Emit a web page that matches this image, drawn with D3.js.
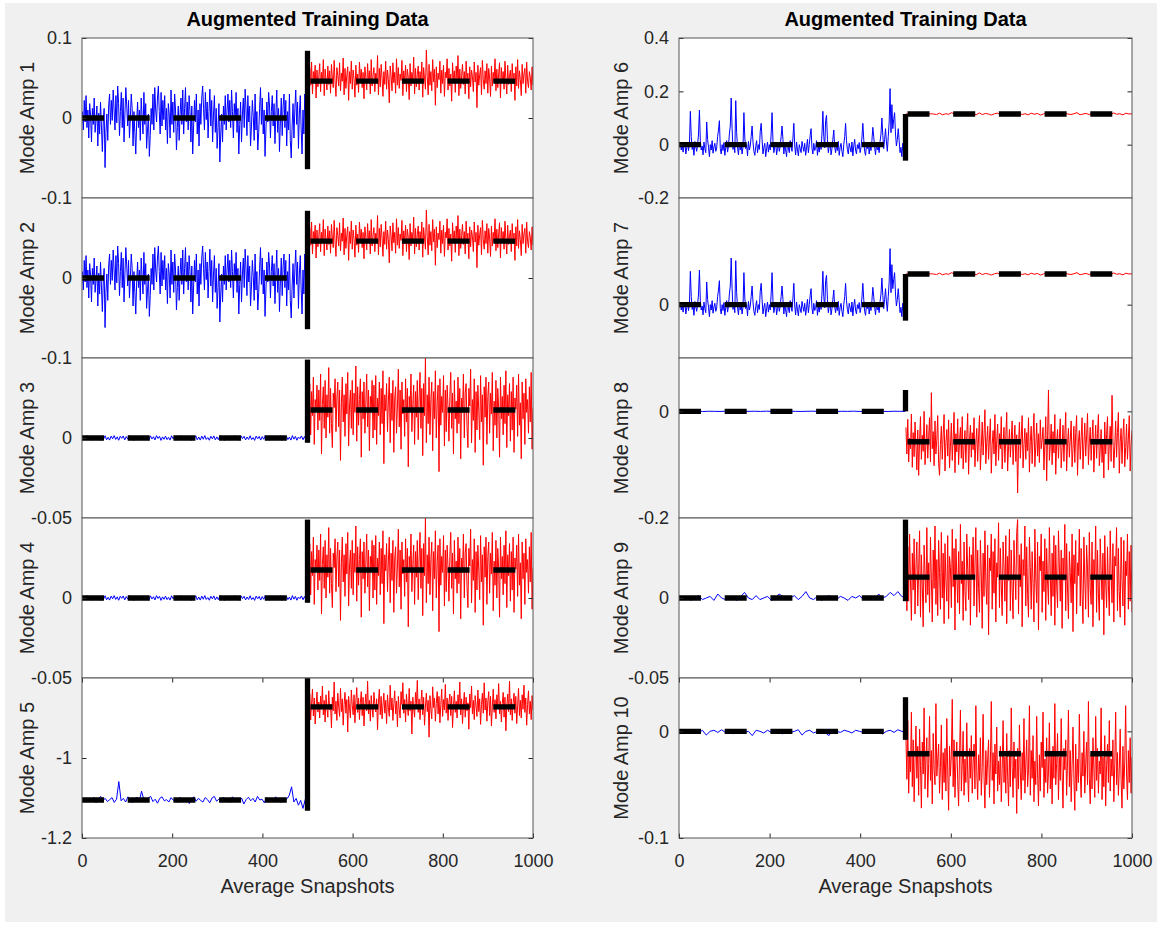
<!DOCTYPE html>
<html>
<head>
<meta charset="utf-8">
<script src="https://d3js.org/d3.v7.min.js"></script>
<style>
body{margin:0;background:#fff;}
text{font-family:Arial,"Liberation Sans",Helvetica,sans-serif;}
</style>
</head>
<body>
<div id="chart"></div>
<script>
// all series values below are in thousandths
var UNIT = 0.001;

// Mode Amp 1 (Mode Amp 2 is the same data in the source figure)
var amp1Blue = [8,-15,22,-5,28,-12,10,-25,18,3,-30,12,-8,25,-18,-2,15,-35,6,-20,20,-10,-42,-5,12,
	-62,-18,5,-28,15,30,-8,22,-3,35,10,-15,28,-6,40,18,-22,8,32,-12,25,-30,5,38,15,
	-10,22,-25,0,30,12,-35,8,-18,-45,-5,20,-12,10,-28,25,2,-20,32,-8,18,-38,-15,5,-48,
	-22,12,-8,30,-15,38,10,-5,25,40,8,-20,32,-10,22,-2,28,-15,12,-32,18,5,-25,35,-8,
	20,-18,30,10,-40,-12,15,-28,5,25,-8,35,-20,12,38,-5,20,-15,28,8,-30,15,-45,-10,22,
	-5,30,-20,10,-35,18,-8,25,40,12,-15,32,-2,20,-25,8,36,-10,22,-30,5,28,-18,12,-38,
	-12,18,-55,-20,5,-30,15,-8,28,-15,10,30,-5,22,-12,35,8,-25,18,-2,32,-18,12,-45,-8,
	20,-30,5,25,-12,36,10,-22,28,-5,15,-35,-10,22,2,-28,30,-15,8,-40,-18,12,38,-8,25,
	-20,10,-48,-15,20,-5,32,15,-25,8,28,-10,18,-32,5,35,-18,12,-42,-5,25,-22,15,30,-12,
	22,-35,8,-15,30,-28,-50,-10,18,-25,12,35,-8,20,-38,5,28,-15,-45,10,-20,30,-5,22,28];
var amp1Red = [55,36,62,41,70,30,58,47,66,25,60,39,52,68,33,57,44,73,28,61,48,35,65,42,59,
	31,67,50,38,72,45,27,63,53,40,69,34,56,46,75,29,62,37,54,64,22,58,43,71,36,
	60,49,26,66,41,55,32,70,47,61,38,57,24,64,51,35,68,44,59,30,73,40,53,63,33,
	56,45,78,29,62,39,67,50,27,58,42,71,36,60,48,19,65,53,34,69,44,57,31,74,41,
	63,37,55,47,72,28,59,43,66,33,61,51,23,68,40,57,46,76,30,62,39,54,65,35,58,
	44,70,26,63,49,36,85,52,29,67,41,58,34,73,45,61,16,64,38,56,48,71,31,60,43,
	66,27,57,50,74,35,62,40,55,21,69,46,59,32,65,44,78,28,61,37,53,67,42,58,30,
	71,47,56,24,64,39,60,52,33,70,45,57,13,66,41,54,63,29,72,48,36,59,43,68,31,
	62,50,27,65,40,57,46,74,34,61,38,55,69,25,63,44,58,36,71,49,30,66,42,53,60,
	33,68,45,56,22,64,40,73,37,59,48,28,67,43,55,62,31,70,46,38,58,51,35,64,41];

// Mode Amp 3 (Mode Amp 4 is the same data)
var amp3Blue = [0,1.2,-1,1.5,-0.8,1.1,-1.4,0.6,-1.2,1.3,-0.3,1,-1.5,0.8,-0.6,1.4,-1.1,0.4,-1.3,1.2,-0.5,1.5,-0.9,0.7,-1.4,
	1.1,-0.2,1.3,-1.2,0.9,-0.7,1.5,-1,0.3,-1.5,1.2,-0.4,1,-1.3,0.6,-0.9,1.4,-1.1,0.5,-1.4,1.3,-0.6,0.8,-1.2,1.5,
	-0.3,1.1,-1.5,0.7,-0.8,1.2,-1,0.4,-1.3,1.4,-0.5,0.9,-1.4,1.1,-0.7,1.5,-1.2,0.2,-1,1.3,-0.6,1,-1.5,0.8,-0.4,
	1.4,-1.1,0.6,-1.3,1.2,-0.8,1.5,-0.9,0.3,-1.4,1.1,-0.5,1.3,-1.2,0.7,-1,1.4,-0.3,0.9,-1.5,1.2,-0.6,1,-1.3,0.5,
	-0.7,1.5,-1.1,0.8,-1.4,1.3,-0.4,1.1,-1.2,0.6,-0.9,1.4,-1,0.3,-1.5,1.2,-0.5,1,-1.3,0.9,-0.8,1.5,-1.1,0.4,-1.4,
	1.3,-0.6,0.7,-1.2,1.1,-0.3,1.4,-1.5,0.8,-0.9,1.2,-1,0.5,-1.3,1.5,-0.7,1,-1.4,0.6,-0.4,1.3,-1.1,0.9,-1.2,0.5];
var amp3Red = [26,8,34,2,29,14,38,-4,24,17,33,5,30,11,40,-10,21,32,6,36,0,27,13,44,3,
	31,9,-6,28,19,37,4,25,35,7,30,-14,22,38,10,27,1,34,15,41,-5,20,30,6,36,
	2,28,16,45,-2,32,8,24,37,-12,29,12,35,3,22,40,7,30,-8,26,18,36,0,33,5,
	39,-4,25,14,35,2,31,9,42,-16,27,17,34,4,23,38,-3,28,11,36,-9,25,32,3,20,
	43,7,30,-7,35,15,24,1,37,10,31,-18,26,18,40,4,21,33,-4,29,13,36,-1,25,41,
	6,31,-11,34,14,50,-3,27,9,38,2,24,35,-8,29,12,42,0,22,33,-21,37,8,26,16,
	39,-5,30,4,33,19,-2,26,41,6,28,-10,36,12,23,3,38,9,31,-13,25,16,40,0,28,
	34,7,-6,31,20,43,-3,24,11,37,-9,29,5,33,17,-1,39,10,27,-17,32,13,38,-4,26,
	35,3,28,15,41,-8,23,8,36,0,31,19,-12,38,12,26,2,33,9,42,-6,27,14,34,-2,
	29,5,38,-9,25,18,33,1,40,8,22,-13,35,12,28,-4,37,16,24,3,32,10,41,-7,19];

// Mode Amp 5
var amp5Blue = [-1103,-1108,-1100,-1110,-1104,-1098,-1112,-1102,-1096,-1106,-1101,-1109,-1104,-1099,-1111,-1103,-1059,-1107,-1101,-1110,-1097,-1105,-1112,-1102,-1098,
	-1108,-1083,-1104,-1110,-1100,-1096,-1109,-1103,-1113,-1101,-1097,-1107,-1104,-1110,-1099,-1106,-1102,-1111,-1098,-1105,-1109,-1100,-1114,-1103,-1097,
	-1108,-1101,-1106,-1110,-1099,-1104,-1112,-1100,-1096,-1108,-1103,-1110,-1098,-1105,-1101,-1111,-1097,-1106,-1102,-1109,-1100,-1115,-1104,-1098,-1107,
	-1101,-1110,-1096,-1105,-1103,-1112,-1099,-1106,-1101,-1109,-1097,-1104,-1111,-1100,-1107,-1102,-1093,-1072,-1110,-1101,-1118,-1106,-1126,-1104,-1112];
var amp5Red = [-855,-890,-840,-905,-862,-828,-895,-850,-915,-870,-835,-885,-860,-900,-845,-878,-820,-892,-856,-910,-842,-874,-898,-832,-880,
	-865,-925,-848,-882,-810,-890,-858,-906,-838,-872,-896,-826,-884,-852,-918,-866,-836,-888,-854,-935,-846,-876,-900,-830,-868,
	-892,-842,-912,-858,-824,-886,-850,-904,-862,-834,-894,-848,-920,-870,-840,-882,-808,-890,-856,-908,-844,-876,-898,-836,-864,
	-885,-852,-930,-860,-828,-892,-846,-902,-868,-838,-888,-856,-914,-842,-874,-896,-818,-880,-850,-906,-864,-832,-890,-858,-922,
	-846,-878,-900,-834,-866,-812,-888,-854,-910,-840,-872,-894,-826,-882,-858,-940,-848,-876,-898,-836,-868,-806,-886,-852,-904,
	-862,-830,-892,-848,-918,-870,-838,-884,-856,-948,-844,-878,-902,-822,-874,-850,-908,-864,-834,-890,-846,-912,-866,-828,-896,
	-854,-880,-816,-888,-850,-906,-860,-840,-894,-846,-924,-872,-832,-886,-858,-900,-842,-876,-810,-892,-852,-914,-868,-836,-898,
	-848,-882,-862,-928,-840,-874,-820,-890,-856,-904,-844,-870,-896,-830,-884,-852,-916,-866,-838,-888,-812,-880,-850,-908,-860,
	-834,-894,-846,-920,-872,-828,-886,-854,-902,-842,-876,-814,-890,-858,-910,-864,-836,-898,-848,-932,-870,-840,-884,-808,-892,
	-852,-906,-862,-838,-888,-846,-914,-868,-826,-894,-856,-900,-842,-878,-818,-886,-850,-918,-866,-832,-890,-858,-904,-844,-880];

// Mode Amp 6 (Mode Amp 7 is the same data)
var amp6Blue = [-10,5,-20,0,-28,-5,10,-35,-12,8,-22,2,125,30,-18,-5,-40,12,-8,-25,0,40,130,15,-20,
	-5,-38,10,-15,-30,85,20,-10,-45,0,-20,15,-32,-8,5,-25,-12,30,55,90,-15,-35,0,-22,8,
	-40,-10,15,-28,-5,40,70,175,60,-18,5,-30,165,45,-12,-38,10,-20,2,-35,-8,120,25,-15,0,
	-42,12,-20,-5,30,70,10,-25,-40,-8,15,-30,0,-18,50,80,20,-35,-10,5,-45,-15,10,-28,0,
	-20,40,120,15,-30,-8,10,-38,-15,5,-25,-5,30,70,20,-35,0,-20,-45,8,-12,-30,15,-8,-25,
	25,80,-5,-38,10,-20,-42,0,-15,-30,12,-8,-25,5,-40,-12,20,-30,0,35,60,-15,-35,5,-22,
	-10,15,-40,-5,-28,10,-18,40,125,30,-12,90,110,20,-30,-5,10,-38,-15,20,55,-8,-30,0,-22,
	12,-40,-10,5,-25,-45,0,30,80,15,-18,-35,5,-10,-28,10,-42,-5,20,-20,-35,0,-15,8,-30,
	-10,25,80,20,-25,-40,0,-15,10,-35,-5,-22,15,65,30,-10,-38,5,-20,-8,-30,12,40,100,35,
	-15,20,60,10,-25,30,85,210,45,150,60,95,120,40,-5,20,60,15,-30,-10,-45,5,-20,-8,10];
var amp6Red = [116,113,118,112,117,114,119,111,116,115,113,118,112,116,114,120,113,117,111,115,118,114,116,112,119,
	113,117,115,111,116,118,113,115,117,112,116,114,119,113,116,112,118,114,117,111,115,119,113,116,114,
	117,112,118,115,113,116,120,112,115,117,113,118,114,116,111,117,115,113,119,114,116,112,118,115,116];

// Mode Amp 8
var amp8Blue = [0,0.3,-0.2,0.2,-0.3,0.1,0,-0.2,0.3,-0.1,0.2,-0.3,0,0.2,-0.2,0.3,-0.1,0.1,-0.3,0.2,0,-0.2,0.1,0.3,-0.2,0,0.2,-0.3,0.1,-0.1,0.3,-0.2,0,0.2,-0.1,0.1,-0.3,0.2,0,0];
var amp8Red = [-30,-80,-15,-95,-50,-70,-5,-105,-40,-85,-20,-65,-110,-35,-120,-55,-10,-90,-45,-75,0,-100,-60,-25,-88,
	-48,-12,-95,35,-70,-38,-102,-18,-80,-52,-8,-98,-120,-62,-28,-90,-44,-6,-112,-58,-34,-84,-16,-106,-66,
	-22,-92,-50,-2,-115,-42,-76,-14,-100,-56,-30,-88,-10,-108,-64,-36,-96,-46,-4,-118,-54,-26,-86,-40,-72,
	-12,-104,-60,-32,-94,-48,-8,-110,-68,-20,-82,-44,3,-98,-58,-28,-90,-50,-14,-116,-62,-36,-80,-6,-102,
	-54,-24,-92,-42,-70,-10,-108,-60,-30,-96,-46,-2,-112,-66,-34,-86,-52,-18,-100,-58,-26,-94,-44,-153,-64,
	-20,-88,-50,-8,-106,-62,-32,-90,-40,-74,-12,-114,-56,-28,-98,-48,-4,-104,-66,-22,-84,-42,-96,-16,-70,
	-54,-30,-110,-60,-10,-130,-46,40,-92,-64,-24,-100,-38,-78,-6,-118,-58,-34,-88,-50,-14,-106,-68,-26,-94,
	-44,-2,-112,-60,-32,-86,-52,-18,-104,-70,-28,-96,-40,-8,-120,-56,-36,-90,-48,-12,-108,-62,-22,-84,-46,
	-4,-100,-58,-30,-92,-50,-16,-114,-64,-26,-88,-42,-6,-102,-72,-34,-96,-54,-125,-20,-80,-44,-10,-110,-60,
	-28,-94,30,-50,-106,-66,-18,-86,-40,-2,-116,-58,-32,-98,-46,-14,-104,-68,-24,-90,-52,-8,-112,-62,-36];

// Mode Amp 9
var amp9Blue = [0,-1,1,-1.5,0,1.5,-1,0,1,-1.5,2.5,0,-1,1,0,-1.5,1,3.5,0,-1,1.5,-1,0,1,-1.5,0,2.5,1,-1,0,1.5,-1,1,4,0,-1,1,-1.5,0,1.5,0,-1,1,0,-1.5,1,0,1.5,-1,0,1,-1,2.5,0,1,3.5,1.5,4,1,0];
var amp9Red = [25,-8,32,-2,40,10,-14,28,5,37,-10,20,35,-5,18,42,-12,27,8,-18,33,15,-3,44,2,
	22,-9,38,12,-15,30,6,45,-4,24,-11,36,16,-7,41,0,28,-16,34,11,-2,39,-13,26,19,
	-6,43,7,31,-20,37,14,-3,29,-10,46,9,23,-14,35,4,-8,40,18,-1,32,-17,27,12,38,
	-5,21,44,-12,30,6,-9,36,15,-19,28,1,42,10,-4,33,-23,25,17,40,-7,29,3,37,-15,
	22,13,47,-6,31,8,-11,35,20,-2,39,-16,26,11,43,-8,30,5,-13,36,16,-1,41,49,-10,
	27,7,34,-18,24,14,45,-5,32,2,-12,38,19,-7,29,9,-15,43,12,-3,35,-20,26,17,40,
	-9,23,4,37,-14,31,10,-4,44,15,-11,28,1,39,-17,33,8,-6,42,20,-2,30,-19,25,11,
	46,-8,34,5,-13,29,16,-3,40,-21,27,9,36,-10,22,14,43,-5,31,2,-16,38,12,-7,33,
	18,-12,41,6,-4,35,-18,24,13,45,-9,30,3,-14,37,17,-1,28,-23,39,10,-6,32,8,-11,
	42,15,-3,34,-15,26,20,44,-8,31,4,-12,38,11,-5,36,-17,23,14,40,-7,29,-2,33,-9];

// Mode Amp 10
var amp10Blue = [0,1,-1,1.5,0,-1.5,1,-3.5,0,1,-1,1.5,-1,0,-2.5,1,1.5,-1,0,-4,1,0,-1.5,1,-1,1.5,0,-2.5,1,-1,0,1.5,-3.5,0,1,-1.5,0,1,-1,-4,1.5,0,-1,1,0,-1.5,1,0,-1,1.5,0,-1,1,-2.5,0,1,-1,1.5,0,-1];
var amp10Red = [-5,-45,10,-58,-20,-38,18,-52,-8,-66,-28,5,-44,-14,-60,2,-32,-72,-10,-40,22,-54,-24,-6,-62,
	-30,14,-46,-18,-68,-2,-36,-50,26,-42,-26,-12,-58,-34,6,-64,-20,-48,-16,-56,12,-38,-74,-14,-42,
	-22,30,-52,-8,-62,-28,-10,-46,-70,-24,20,-56,-32,0,-60,-26,-48,8,-40,-66,-16,-44,-4,-58,-30,
	-12,-54,24,-38,-64,-22,-46,-6,-60,-34,16,-42,-72,-18,-50,-26,-8,-62,-30,28,-46,-20,-68,-12,-40,
	4,-56,-28,-50,-14,-66,-36,10,-48,-24,-58,-2,-42,-70,-18,-52,22,-34,-62,-10,-44,-26,-77,-16,-54,
	6,-38,-64,-20,-46,12,-58,-30,-8,-52,-36,24,-60,-18,-44,-4,-66,-28,-50,14,-40,-70,-22,-56,-10,
	-34,18,-62,-26,-48,-6,-58,-38,8,-54,-20,-68,-14,-44,26,-50,-30,-2,-64,-24,-46,12,-40,-72,-16,
	-36,-8,-60,-28,20,-52,-18,-66,-32,4,-44,-74,-12,-56,-26,-48,16,-38,-62,-20,-42,0,-58,-30,-10,
	-50,28,-44,-68,-22,-54,-6,-36,-62,14,-46,-16,-58,-28,-40,22,-64,-24,-52,-4,-70,-32,-12,-48,10,
	-56,-26,-42,-8,-66,-30,18,-50,-20,-60,-36,2,-46,-72,-14,-54,-28,24,-40,-64,-18,-48,-6,-58,-24];

var panelLabels = ["Mode Amp 1","Mode Amp 2","Mode Amp 3","Mode Amp 4","Mode Amp 5","Mode Amp 6","Mode Amp 7","Mode Amp 8","Mode Amp 9","Mode Amp 10"];
var blueSeries = [amp1Blue, amp1Blue, amp3Blue, amp3Blue, amp5Blue, amp6Blue, amp6Blue, amp8Blue, amp9Blue, amp10Blue];
var redSeries = [amp1Red, amp1Red, amp3Red, amp3Red, amp5Red, amp6Red, amp6Red, amp8Red, amp9Red, amp10Red];
// class means (dashed black) and the solid switch bar at snapshot 500, thousandths
var blueMeans = [0, 0, 0, 0, -1105, 0, 0, 0, 0, 0];
var redMeans = [46, 46, 17.5, 17.5, -872, 115, 115, -57, 13, -21];
var switchBars = [[-64,84],[-64,84],[-3,49],[-3,49],[-1132,-800],[-60,115],[-60,115],[0,40],[-2,49],[-8,32]];

var yDomains = [[-0.1,0.1],[-0.1,0.1],[-0.05,0.05],[-0.05,0.05],[-1.2,-0.8],[-0.2,0.4],[-0.2,0.4],[-0.2,0.1],[-0.05,0.05],[-0.1,0.05]];
var yTicks = [[-0.1,0,0.1],[-0.1,0],[-0.05,0],[-0.05,0],[-1.2,-1],[-0.2,0,0.2,0.4],[0],[-0.2,0],[-0.05,0],[-0.1,0]];
var xDomain = [0, 1000];
var xTicks = [0, 200, 400, 600, 800, 1000];
var titleText = "Augmented Training Data";
var xLabelText = "Average Snapshots";

var width = 1160, height = 925;
var colLeft = [82, 679], colRight = [533, 1132];
var plotTop = 38, rowH = 160;
var labelX = [27, 621];
var axisColor = "#262626";
var dash = 22, gap = 23.7;

var svg = d3.select("#chart").append("svg")
	.attr("width", width)
	.attr("height", height);

// grey figure background
svg.append("rect")
	.attr("x", 5).attr("y", 3)
	.attr("width", 1152).attr("height", 919)
	.attr("fill", "#f0f0f0");

function seriesPoints(values, x0, x1){
	var n = values.length;
	return values.map(function(v, i){
		return {x: x0 + i*(x1 - x0)/(n - 1), y: v*UNIT};
	});
}

function drawPanel(k){
	var col = k < 5 ? 0 : 1;
	var row = k % 5;
	var top = plotTop + row*rowH;
	var x = d3.scaleLinear().domain(xDomain).range([colLeft[col], colRight[col]]);
	var y = d3.scaleLinear().domain(yDomains[k]).range([top + rowH, top]);
	var g = svg.append("g");

	g.append("rect")
		.attr("x", colLeft[col]).attr("y", top)
		.attr("width", colRight[col] - colLeft[col]).attr("height", rowH)
		.attr("fill", "#fff");

	g.append("clipPath").attr("id", "clip" + k)
		.append("rect")
		.attr("x", colLeft[col]).attr("y", top)
		.attr("width", colRight[col] - colLeft[col]).attr("height", rowH);

	var plot = g.append("g").attr("clip-path", "url(#clip" + k + ")");
	var line = d3.line()
		.x(function(d){ return x(d.x); })
		.y(function(d){ return y(d.y); });

	plot.append("path")
		.datum(seriesPoints(blueSeries[k], 1, 500))
		.attr("d", line)
		.attr("fill", "none")
		.attr("stroke", "#0000ff")
		.attr("stroke-width", 1);

	plot.append("path")
		.datum(seriesPoints(redSeries[k], 501, 1000))
		.attr("d", line)
		.attr("fill", "none")
		.attr("stroke", "#ff0000")
		.attr("stroke-width", 1);

	// solid bar at the class switch
	plot.append("line")
		.attr("x1", x(500)).attr("x2", x(500))
		.attr("y1", y(switchBars[k][0]*UNIT)).attr("y2", y(switchBars[k][1]*UNIT))
		.attr("stroke", "#000")
		.attr("stroke-width", 5.3);

	// dashed class means, dash pattern runs on across the switch
	var offset = (x(500) - x(0)) % (dash + gap);
	plot.append("line")
		.attr("x1", x(0)).attr("x2", x(500))
		.attr("y1", y(blueMeans[k]*UNIT)).attr("y2", y(blueMeans[k]*UNIT))
		.attr("stroke", "#000").attr("stroke-width", 5.3)
		.attr("stroke-dasharray", dash + " " + gap);
	plot.append("line")
		.attr("x1", x(500)).attr("x2", x(1000))
		.attr("y1", y(redMeans[k]*UNIT)).attr("y2", y(redMeans[k]*UNIT))
		.attr("stroke", "#000").attr("stroke-width", 5.3)
		.attr("stroke-dasharray", dash + " " + gap)
		.attr("stroke-dashoffset", offset);

	// y ticks inside on both sides
	g.append("g")
		.attr("transform", "translate(" + colLeft[col] + ",0)")
		.call(d3.axisLeft(y).tickValues(yTicks[k]).tickSizeInner(-4.5).tickSizeOuter(0).tickPadding(10)
			.tickFormat(function(d){ return String(d); }));
	g.append("g")
		.attr("transform", "translate(" + colRight[col] + ",0)")
		.call(d3.axisRight(y).tickValues(yTicks[k]).tickSizeInner(-4.5).tickSizeOuter(0).tickFormat(""));

	if(row == 4){
		g.append("g")
			.attr("transform", "translate(0," + (top + rowH) + ")")
			.call(d3.axisBottom(x).tickValues(xTicks).tickSizeInner(-4.5).tickSizeOuter(0).tickPadding(16)
				.tickFormat(function(d){ return String(d); }));
		g.append("g")
			.attr("transform", "translate(0," + top + ")")
			.call(d3.axisTop(x).tickValues(xTicks).tickSizeInner(-4.5).tickSizeOuter(0).tickFormat(""));
		g.append("text")
			.attr("x", (colLeft[col] + colRight[col])/2)
			.attr("y", 893)
			.attr("text-anchor", "middle")
			.attr("font-size", 20)
			.attr("fill", axisColor)
			.text(xLabelText);
	}

	g.selectAll(".domain").remove();
	g.selectAll(".tick line").attr("stroke", axisColor);
	g.selectAll(".tick text").attr("font-size", 18).attr("fill", axisColor)
		.attr("font-family", "Arial, 'Liberation Sans', sans-serif");

	// frame
	g.append("rect")
		.attr("x", colLeft[col]).attr("y", top)
		.attr("width", colRight[col] - colLeft[col]).attr("height", rowH)
		.attr("fill", "none")
		.attr("stroke", "#555")
		.attr("stroke-width", 1);

	g.append("text")
		.attr("transform", "translate(" + labelX[col] + "," + (top + rowH/2) + ") rotate(-90)")
		.attr("text-anchor", "middle")
		.attr("dominant-baseline", "central")
		.attr("font-size", 20)
		.attr("fill", axisColor)
		.text(panelLabels[k]);

	if(row == 0){
		g.append("text")
			.attr("x", (colLeft[col] + colRight[col])/2)
			.attr("y", 26)
			.attr("text-anchor", "middle")
			.attr("font-size", 20)
			.attr("font-weight", "bold")
			.attr("fill", "#000")
			.text(titleText);
	}
}

for(var k = 0; k < 10; k++){
	drawPanel(k);
}
</script>
</body>
</html>
